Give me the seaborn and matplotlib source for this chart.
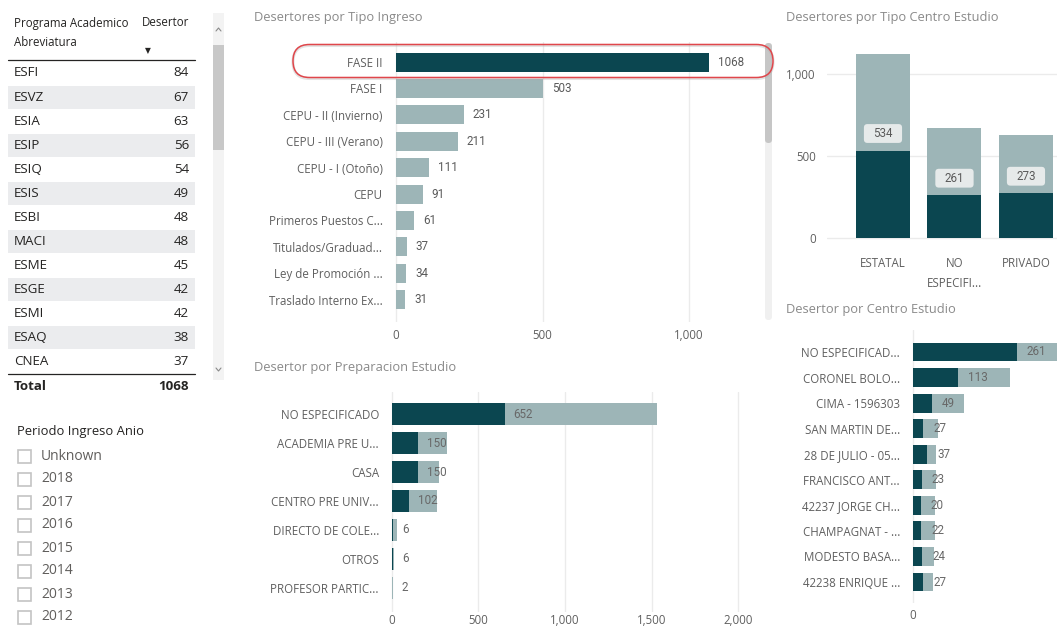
import matplotlib
matplotlib.use("Agg")
import matplotlib.pyplot as plt
from matplotlib.patches import FancyBboxPatch, Rectangle, BoxStyle
import pandas as pd
import seaborn as sns

# ---- data -----------------------------------------------------------------
programas = ["ESFI", "ESVZ", "ESIA", "ESIP", "ESIQ", "ESIS", "ESBI", "MACI",
             "ESME", "ESGE", "ESMI", "ESAQ", "CNEA"]
programa_desertores = [84, 67, 63, 56, 54, 49, 48, 48, 45, 42, 42, 38, 37]
total_desertores = 1068

periodos = ["Unknown", "2018", "2017", "2016", "2015", "2014", "2013", "2012"]

tipo_ingreso = ["FASE II", "FASE I", "CEPU - II (Invierno)", "CEPU - III (Verano)",
                "CEPU - I (Otoño)", "CEPU", "Primeros Puestos C...",
                "Titulados/Graduad...", "Ley de Promoción ...", "Traslado Interno Ex..."]
tipo_ingreso_desertores = [1068, 503, 231, 211, 111, 91, 61, 37, 34, 31]
tipo_ingreso_sel = "FASE II"

preparacion = ["NO ESPECIFICADO", "ACADEMIA PRE U...", "CASA", "CENTRO PRE UNIV...",
               "DIRECTO DE COLE...", "OTROS", "PROFESOR PARTIC..."]
preparacion_total = [1530, 318, 273, 263, 32, 14, 5]
preparacion_sel = [652, 150, 150, 102, 6, 6, 2]

tipo_centro = ["ESTATAL", "NO\nESPECIFI...", "PRIVADO"]
tipo_centro_total = [1125, 675, 630]
tipo_centro_sel = [534, 261, 273]

centro = ["NO ESPECIFICAD...", "CORONEL BOLO...", "CIMA - 1596303", "SAN MARTIN DE...",
          "28 DE JULIO - 05...", "FRANCISCO ANT...", "42237 JORGE CH...",
          "CHAMPAGNAT - ...", "MODESTO BASA...", "42238 ENRIQUE ..."]
centro_total = [675, 244, 128, 63, 58, 58, 55, 55, 53, 50]
centro_sel = [261, 113, 49, 27, 37, 23, 20, 22, 24, 27]

# ---- style ----------------------------------------------------------------
sns.set_theme(style="white")
plt.rcParams["font.family"] = ["Open Sans", "DejaVu Sans"]

W, H = 1057, 627
DARK = "#0B4650"
LIGHT = "#9DB5B7"
GRID = "#EBEBEB"
TITLE = "#8A8A8A"
TICK = "#5F5F5F"
LABEL = "#5A5A5A"
INK = "#252423"
NUM_FONT = ["Roboto", "DejaVu Sans"]
TICK_SIZE = 8.3

fig = plt.figure(figsize=(W / 100, H / 100), dpi=100)
fig.patch.set_facecolor("white")


def px_axes(left, top, right, bottom, z=1):
    ax = fig.add_axes([left / W, 1 - bottom / H, (right - left) / W, (bottom - top) / H],
                      zorder=z)
    ax.patch.set_alpha(0)
    return ax


def style_axes(ax, grid_axis):
    for s in ax.spines.values():
        s.set_visible(False)
    ax.set_xlabel("")
    ax.set_ylabel("")
    ax.grid(False)
    ax.tick_params(length=0, colors=TICK, labelsize=TICK_SIZE)
    if grid_axis == "x":
        ax.xaxis.grid(True, color=GRID, lw=1)
    else:
        ax.yaxis.grid(True, color=GRID, lw=1)
    ax.set_axisbelow(True)


def label_box(x0, y0, width, height, mutation_size):
    # rounded tag, wider than tall, around a data label
    padx, pady = 0.8 * mutation_size, 0.25 * mutation_size
    return BoxStyle.Round(pad=0, rounding_size=0.3)(
        x0 - padx, y0 - pady, width + 2 * padx, height + 2 * pady, mutation_size)


bg = fig.add_axes([0, 0, 1, 1], zorder=0)
bg.set_xlim(0, W)
bg.set_ylim(H, 0)
bg.axis("off")

# ---- table: Programa Academico ---------------------------------------------
bg.text(14, 23, "Programa Academico", fontsize=8.3, color=INK, va="center")
bg.text(14, 42, "Abreviatura", fontsize=8.3, color=INK, va="center")
bg.text(189, 23, "Desertor", fontsize=8.3, color=INK, va="center", ha="right")
bg.text(148, 51, "▼", fontsize=5.5, color=INK, va="center", ha="center",
        family=["DejaVu Sans"])
bg.plot([8, 195], [59.5, 59.5], color=INK, lw=0.9)
row_h = 24.05
for i, (p, v) in enumerate(zip(programas, programa_desertores)):
    yc = 73 + row_h * i
    if i % 2 == 1:
        bg.add_patch(Rectangle((8, yc - row_h / 2 + 0.5), 187, row_h - 1,
                               color="#EBECEE", lw=0))
    bg.text(14, yc, p, fontsize=9.6, color=INK, va="center")
    bg.text(189, yc, f"{v}", fontsize=9.6, color=INK, va="center", ha="right")
bg.plot([8, 195], [373.5, 373.5], color=INK, lw=0.9)
bg.text(14, 387, "Total", fontsize=9.6, color=INK, va="center", fontweight="bold")
bg.text(189, 387, f"{total_desertores}", fontsize=9.6, color=INK, va="center",
        ha="right", fontweight="bold")

# table scrollbar
bg.add_patch(Rectangle((213, 13), 11, 367, color="#F3F3F3", lw=0))
bg.add_patch(Rectangle((213, 45), 11, 105, color="#C8C8C8", lw=0))
bg.plot([216, 218.5, 221], [31, 28, 31], color="#8A8A8A", lw=0.8)
bg.plot([216, 218.5, 221], [368, 371, 368], color="#8A8A8A", lw=0.8)

# ---- slicer: Periodo Ingreso Anio ------------------------------------------
bg.text(17, 432, "Periodo Ingreso Anio", fontsize=9.4, color=INK, va="center")
for i, p in enumerate(periodos):
    yc = 456 + 23 * i
    bg.add_patch(Rectangle((17.5, yc - 6.5), 13, 13, fill=False, ec="#C4C4C4", lw=1.2))
    bg.text(41, yc, p, fontsize=10, color="#605E5C", va="center")

# ---- titles ----------------------------------------------------------------
for x, y, t in [(254.5, 18, "Desertores por Tipo Ingreso"),
                (254.5, 367, "Desertor por Preparacion Estudio"),
                (786.5, 18, "Desertores por Tipo Centro Estudio"),
                (786.5, 309, "Desertor por Centro Estudio")]:
    bg.text(x, y, t, fontsize=9.3, color=TITLE, va="center")

# ---- Desertores por Tipo Ingreso -------------------------------------------
ax1 = px_axes(393, 42, 760, 322)
df_ing = pd.DataFrame({"tipo": tipo_ingreso, "desertores": tipo_ingreso_desertores})
pal_ing = {t: (DARK if t == tipo_ingreso_sel else LIGHT) for t in tipo_ingreso}
sns.barplot(data=df_ing, x="desertores", y="tipo", hue="tipo", palette=pal_ing,
            legend=False, orient="h", width=0.72, saturation=1, linewidth=0, ax=ax1)
ax1.set_xticks([0, 500, 1000], ["0", "500", "1,000"])
ax1.set_xlim(-10.2, 1242)
ax1.set_ylim(9.85, -0.76)
style_axes(ax1, "x")
ax1.tick_params(axis="y", pad=7.5)
ax1.tick_params(axis="x", pad=5)
for i, v in enumerate(tipo_ingreso_desertores):
    ax1.annotate(f"{v}", (v, i), xytext=(6.5, 0), textcoords="offset points",
                 va="center", ha="left", fontsize=8.4, color=LABEL, family=NUM_FONT)

# scrollbar of the Tipo Ingreso list
bg.add_patch(FancyBboxPatch((765, 43), 7, 277, boxstyle="round,pad=0,rounding_size=3.5",
                            color="#F0F0F0", lw=0))
bg.add_patch(FancyBboxPatch((765, 43), 7, 100, boxstyle="round,pad=0,rounding_size=3.5",
                            color="#C6C6C6", lw=0))

# ---- Desertor por Preparacion Estudio --------------------------------------
ax2 = px_axes(388.7, 392, 760, 612)
df_prep = pd.DataFrame({"preparacion": preparacion, "total": preparacion_total,
                        "sel": preparacion_sel})
sns.barplot(data=df_prep, x="total", y="preparacion", color=LIGHT, saturation=1,
            width=0.77, orient="h", linewidth=0, ax=ax2)
sns.barplot(data=df_prep, x="sel", y="preparacion", color=DARK, saturation=1,
            width=0.77, orient="h", linewidth=0, ax=ax2)
ax2.set_xticks([0, 500, 1000, 1500, 2000], ["0", "500", "1,000", "1,500", "2,000"])
ax2.set_xlim(-17.3, 2125)
ax2.set_ylim(6.83, -0.76)
style_axes(ax2, "x")
ax2.tick_params(axis="y", pad=7.0)
ax2.tick_params(axis="x", pad=1.5)
for i, v in enumerate(preparacion_sel):
    ax2.annotate(f"{v}", (v, i), xytext=(6.5, 0), textcoords="offset points",
                 va="center", ha="left", fontsize=8.4, color="#686868", family=NUM_FONT)

# ---- Desertores por Tipo Centro Estudio ------------------------------------
ax3 = px_axes(827, 45, 1057, 241)
df_tc = pd.DataFrame({"tipo": tipo_centro, "total": tipo_centro_total, "sel": tipo_centro_sel})
sns.barplot(data=df_tc, x="tipo", y="total", color=LIGHT, saturation=1, width=0.755,
            linewidth=0, ax=ax3)
sns.barplot(data=df_tc, x="tipo", y="sel", color=DARK, saturation=1, width=0.755,
            linewidth=0, ax=ax3)
ax3.set_yticks([0, 500, 1000], ["0", "500", "1,000"])
ax3.set_xlim(-0.783, 2.434)
ax3.set_ylim(-18.3, 1179)
style_axes(ax3, "y")
ax3.tick_params(axis="y", pad=8)
ax3.tick_params(axis="x", pad=11.5)
for lbl in ax3.get_xticklabels():
    lbl.set_linespacing(1.7)
for i, v in enumerate(tipo_centro_sel):
    ax3.annotate(f"{v}", (i, v), xytext=(0, 12.3), textcoords="offset points",
                 va="center", ha="center", fontsize=8.4, color="#5A5A5A", family=NUM_FONT,
                 bbox=dict(boxstyle=label_box, fc="#E6EAEA", ec="none"))

# ---- Desertor por Centro Estudio -------------------------------------------
ax4 = px_axes(909.7, 330, 1057, 603)
df_ce = pd.DataFrame({"centro": centro, "total": centro_total, "sel": centro_sel})
sns.barplot(data=df_ce, x="total", y="centro", color=LIGHT, saturation=1, width=0.74,
            orient="h", linewidth=0, ax=ax4)
sns.barplot(data=df_ce, x="sel", y="centro", color=DARK, saturation=1, width=0.74,
            orient="h", linewidth=0, ax=ax4)
ax4.set_xticks([0], ["0"])
ax4.set_xlim(-7.5, 361)
ax4.set_ylim(9.82, -0.86)
style_axes(ax4, "x")
ax4.tick_params(axis="y", pad=7.0)
ax4.tick_params(axis="x", pad=4)
for i, v in enumerate(centro_sel):
    ax4.annotate(f"{v}", (v, i), xytext=(7.0, 0), textcoords="offset points",
                 va="center", ha="left", fontsize=8.4, color="#686868", family=NUM_FONT)

# ---- highlight around the selected entry type ------------------------------
ov = fig.add_axes([0, 0, 1, 1], zorder=10)
ov.set_xlim(0, W)
ov.set_ylim(H, 0)
ov.axis("off")
ov.patch.set_alpha(0)
ov.add_patch(FancyBboxPatch((293, 45.5), 480, 33, boxstyle="round,pad=0,rounding_size=16.5",
                            fill=False, ec="#B0B0B0", lw=2.2, alpha=0.35))
ov.add_patch(FancyBboxPatch((293, 44.5), 480, 33, boxstyle="round,pad=0,rounding_size=16.5",
                            fill=False, ec="#E0464B", lw=1.1))

fig.savefig("out.png", dpi=100, facecolor="white")
